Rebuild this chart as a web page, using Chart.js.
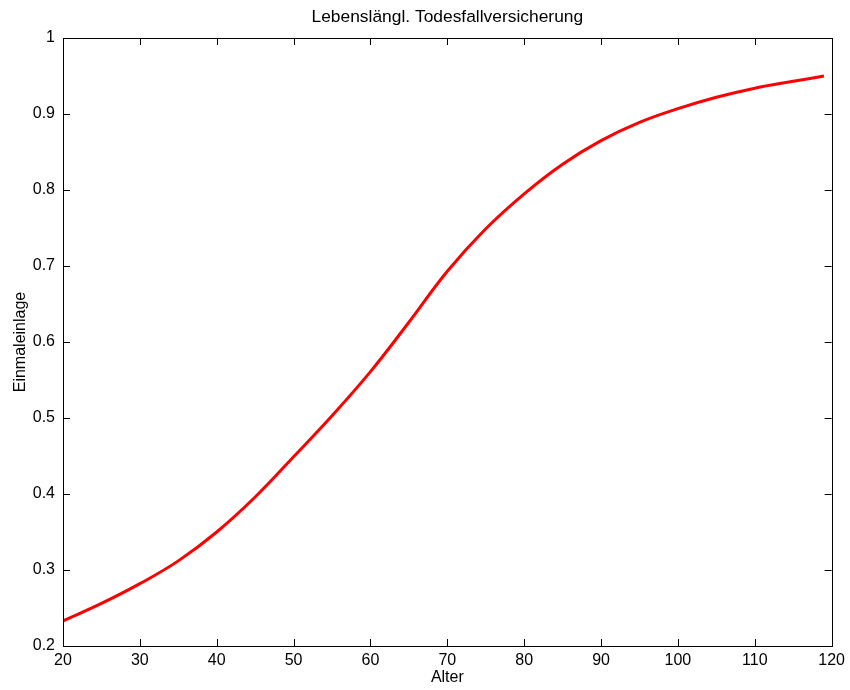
<!DOCTYPE html>
<html>
<head>
<meta charset="utf-8">
<script src="https://cdn.jsdelivr.net/npm/chart.js@4/dist/chart.umd.min.js"></script>
<style>
  html, body { margin: 0; padding: 0; background: #fff; }
  #wrap { width: 850px; height: 690px; }
</style>
</head>
<body>
<div id="wrap"><canvas id="myChart" width="850" height="690"></canvas></div>
<script>
const alter = [20, 25, 30, 35, 40, 45, 50, 55, 60, 65, 70, 75, 80, 85, 90, 95, 100, 105, 110, 115, 119]
const einmaleinlage = [0.233, 0.256, 0.282, 0.312, 0.350, 0.396, 0.449, 0.503, 0.561, 0.626, 0.693,
    0.749, 0.795, 0.834, 0.865, 0.889, 0.907, 0.922, 0.934, 0.943, 0.950]
const xTicks = [20, 30, 40, 50, 60, 70, 80, 90, 100, 110, 120]
const yTicks = [0.2, 0.3, 0.4, 0.5, 0.6, 0.7, 0.8, 0.9, 1]
const titel = 'Lebenslängl. Todesfallversicherung'

const font = { family: '"Liberation Sans", Arial, Helvetica, sans-serif', size: 16 }

// box around the plot, inward tick marks on all four sides, title on top
const frame = {
    id: 'frame',
    afterDraw(chart) {
        const { ctx, chartArea: a, scales: { x, y } } = chart
        ctx.save()
        ctx.strokeStyle = '#000'
        ctx.lineWidth = 1
        ctx.strokeRect(Math.round(a.left) + 0.5, Math.round(a.top) + 0.5,
            Math.round(a.right - a.left), Math.round(a.bottom - a.top))
        ctx.beginPath()
        const len = 7
        xTicks.forEach(v => {
            const px = Math.round(x.getPixelForValue(v)) + 0.5
            ctx.moveTo(px, a.bottom); ctx.lineTo(px, a.bottom - len)
            ctx.moveTo(px, a.top); ctx.lineTo(px, a.top + len)
        })
        yTicks.forEach(v => {
            const py = Math.round(y.getPixelForValue(v)) + 0.5
            ctx.moveTo(a.left, py); ctx.lineTo(a.left + len, py)
            ctx.moveTo(a.right, py); ctx.lineTo(a.right - len, py)
        })
        ctx.stroke()
        ctx.fillStyle = '#000'
        ctx.font = `17.4px ${font.family}`
        ctx.textAlign = 'center'
        ctx.textBaseline = 'middle'
        ctx.fillText(titel, (a.left + a.right) / 2, 17)
        ctx.restore()
    }
}

const ctx = document.getElementById('myChart').getContext('2d')
new Chart(ctx, {
    type: 'line',
    data: {
        datasets: [{
            label: 'Einmaleinlage',
            data: alter.map((a, i) => ({ x: a, y: einmaleinlage[i] })),
            borderColor: 'rgb(255, 0, 0)',
            borderWidth: 3,
            pointRadius: 0,
            fill: false,
            tension: 0.4
        }]
    },
    options: {
        responsive: false,
        animation: false,
        layout: { padding: { top: 38, right: 17, left: 0, bottom: 0 } },
        plugins: { legend: { display: false }, title: { display: false }, tooltip: { enabled: false } },
        scales: {
            x: {
                type: 'linear',
                min: 20,
                max: 120,
                afterFit: s => { s.height = 44 },
                afterBuildTicks: s => { s.ticks = xTicks.map(v => ({ value: v })) },
                grid: { display: false, drawTicks: false },
                border: { display: false },
                ticks: { color: '#000', font, padding: 5, maxRotation: 0 },
                title: { display: true, text: 'Alter', color: '#000', font, padding: { top: 0, bottom: 3 } }
            },
            y: {
                type: 'linear',
                min: 0.2,
                max: 1,
                afterFit: s => { s.width = 63 },
                afterBuildTicks: s => { s.ticks = yTicks.map(v => ({ value: v })) },
                grid: { display: false, drawTicks: false },
                border: { display: false },
                ticks: { color: '#000', font, padding: 8, callback: v => String(+v.toFixed(1)) },
                title: { display: true, text: 'Einmaleinlage', color: '#000', font, padding: { top: 11, bottom: 0 } }
            }
        }
    },
    plugins: [frame]
})
</script>
</body>
</html>
